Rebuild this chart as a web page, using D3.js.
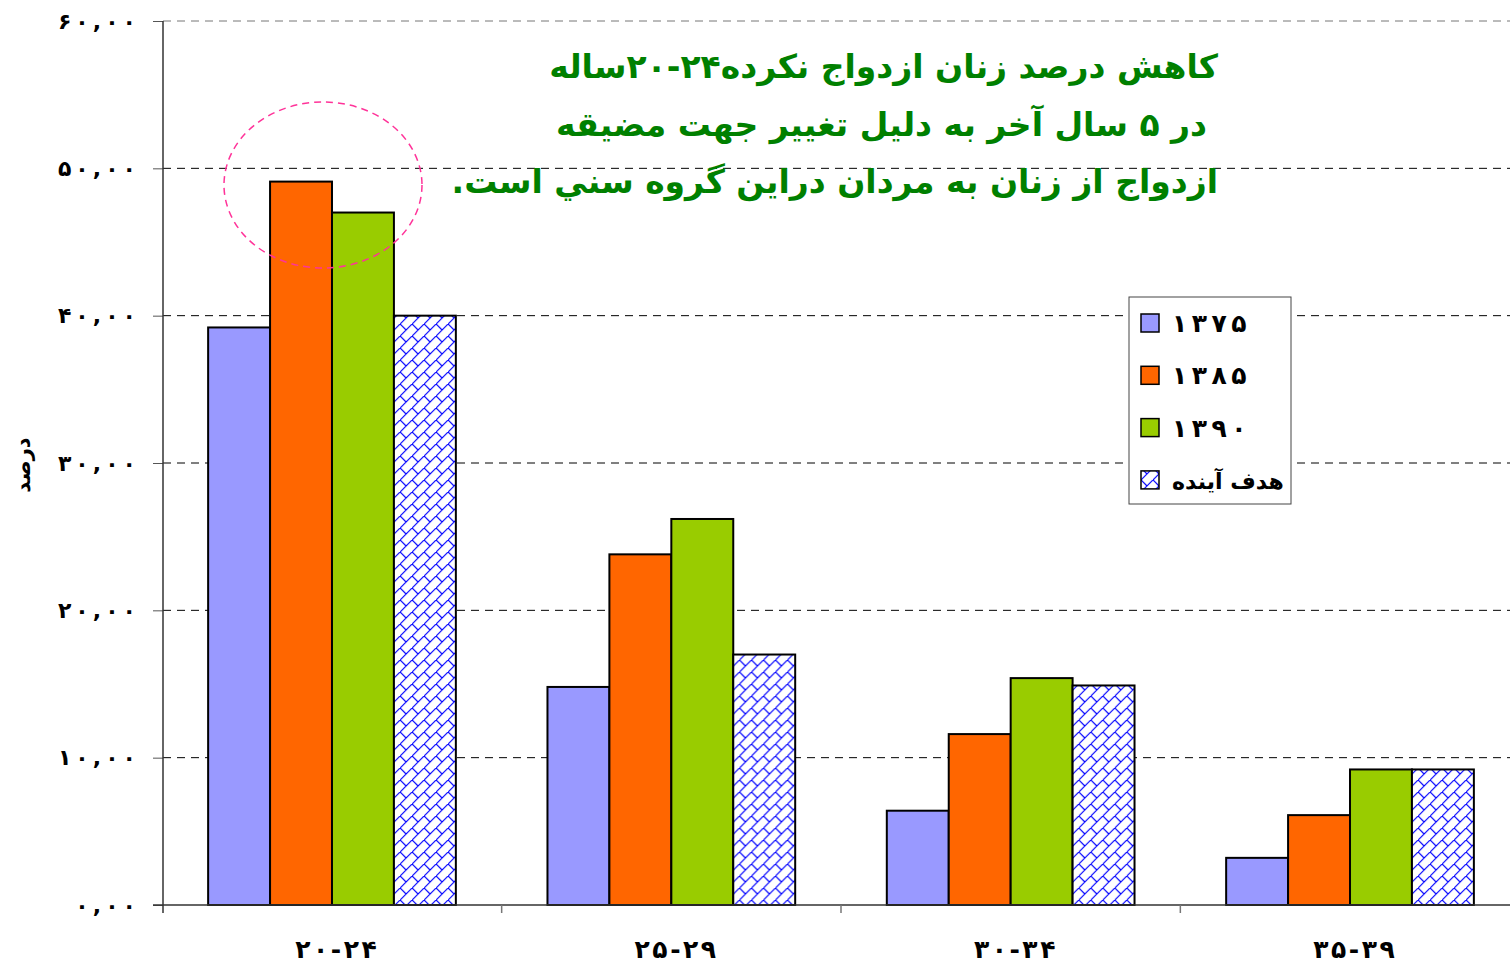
<!DOCTYPE html>
<html>
<head>
<meta charset="utf-8">
<script src="https://cdn.jsdelivr.net/npm/d3@7"></script>
<style>
body { margin: 0; background: #fff; }
svg { display: block; font-family: "DejaVu Sans", sans-serif; font-weight: bold; }
</style>
</head>
<body>
<div class="chart"><svg></svg></div>
<script>
// age groups and series
var groups = ["۲۰-۲۴", "۲۵-۲۹", "۳۰-۳۴", "۳۵-۳۹"];
var seriesNames = ["۱۳۷۵", "۱۳۸۵", "۱۳۹۰", "هدف آینده"];
var s1375 = [39.2, 14.8, 6.4, 3.2];
var s1385 = [49.1, 23.8, 11.6, 6.1];
var s1390 = [47.0, 26.2, 15.4, 9.2];
var sTarget = [40.0, 17.0, 14.9, 9.2];
var yTicks = [0, 10, 20, 30, 40, 50, 60];
var yTickLabels = ["۰,۰۰", "۱۰,۰۰", "۲۰,۰۰", "۳۰,۰۰", "۴۰,۰۰", "۵۰,۰۰", "۶۰,۰۰"];
var titleLines = [
    "کاهش درصد زنان ازدواج نکرده\u2066۲۰-۲۴\u2069ساله",
    "در ۵ سال آخر به دلیل تغییر جهت مضیقه",
    "ازدواج از زنان به مردان دراین گروه سني است."
];
var yTitle = "درصد";

var seriesValues = [s1375, s1385, s1390, sTarget];
var colors = ["#9999ff", "#ff6600", "#99cc00", "url(#brick)"];

var width = 1510, height = 965;
var plotLeft = 163, plotRight = 1510, plotTop = 21, plotBottom = 905;

// chrome ignores letter-spacing on arabic digits, so spread them with tspans
function spreadDigits(sel, gap){
    sel.each(function(){
        var t = d3.select(this);
        var s = t.text();
        t.text("");
        s.split("").forEach(function(ch, i){
            t.append("tspan").attr("dx", i === 0 ? 0 : gap).text(ch);
        });
    });
}

var svg = d3.select(".chart").select("svg")
    .attr("width", width)
    .attr("height", height);

// diagonal brick fill for the target series
var defs = svg.append("defs");
var pat = defs.append("pattern")
    .attr("id", "brick")
    .attr("patternUnits", "userSpaceOnUse")
    .attr("width", 12)
    .attr("height", 12);
pat.append("rect").attr("width", 12).attr("height", 12).attr("fill", "#fff");
pat.append("path")
    .attr("d", "M-1,13 L13,-1 M0,0 L6,6")
    .attr("stroke", "#0000ff")
    .attr("stroke-width", 1.2)
    .attr("fill", "none");

// the last group's slot runs a little past the picture edge
var x = d3.scaleBand()
    .domain(groups)
    .range([plotLeft, plotRight + 9])
    .paddingInner(0.27)
    .paddingOuter(0.133);

var xInner = d3.scaleBand()
    .domain(d3.range(seriesNames.length))
    .range([0, x.bandwidth()]);

var y = d3.scaleLinear()
    .domain([0, 60])
    .range([plotBottom, plotTop]);

// grid
svg.append("g")
    .selectAll("line")
    .data(yTicks.filter(function(d){ return d > 0; }))
    .enter().append("line")
    .attr("x1", plotLeft)
    .attr("x2", plotRight)
    .attr("y1", function(d){ return y(d); })
    .attr("y2", function(d){ return y(d); })
    .attr("stroke", function(d){ return d === 60 ? "#777" : "#000"; })
    .attr("stroke-width", 1)
    .attr("stroke-dasharray", "8,6");

// y axis
var yAxis = svg.append("g")
    .attr("transform", "translate(" + plotLeft + ",0)")
    .call(d3.axisLeft(y)
        .tickValues(yTicks)
        .tickFormat(function(d, i){ return yTickLabels[i]; })
        .tickSize(10)
        .tickSizeOuter(0)
        .tickPadding(17));
yAxis.select(".domain").remove();
yAxis.selectAll(".tick line").attr("stroke", "#555");
yAxis.selectAll(".tick text")
    .style("font-family", "DejaVu Sans")
    .style("font-size", "22px")
    .style("font-weight", "bold")
    .attr("fill", "#000")
    .call(spreadDigits, 4);

svg.append("line")
    .attr("x1", plotLeft).attr("x2", plotLeft)
    .attr("y1", plotTop).attr("y2", plotBottom + 8)
    .attr("stroke", "#333")
    .attr("stroke-width", 1.5);

// bars
var group = svg.append("g")
    .selectAll("g")
    .data(groups)
    .enter().append("g")
    .attr("transform", function(d){ return "translate(" + x(d) + ",0)"; });

group.selectAll("rect")
    .data(function(d, gi){
        return seriesValues.map(function(s, si){ return {si: si, v: s[gi]}; });
    })
    .enter().append("rect")
    .attr("x", function(d){ return xInner(d.si); })
    .attr("width", xInner.bandwidth())
    .attr("y", function(d){ return y(d.v); })
    .attr("height", function(d){ return plotBottom - y(d.v); })
    .attr("fill", function(d){ return colors[d.si]; })
    .attr("stroke", "#000")
    .attr("stroke-width", 2);

// x axis
svg.append("line")
    .attr("x1", plotLeft - 10).attr("x2", plotRight)
    .attr("y1", plotBottom).attr("y2", plotBottom)
    .attr("stroke", "#333")
    .attr("stroke-width", 1.5);

svg.append("g")
    .selectAll("line")
    .data(groups.slice(1))
    .enter().append("line")
    .attr("x1", function(d){ return x(d) - x.step() * x.paddingInner() / 2; })
    .attr("x2", function(d){ return x(d) - x.step() * x.paddingInner() / 2; })
    .attr("y1", plotBottom)
    .attr("y2", plotBottom + 8)
    .attr("stroke", "#777")
    .attr("stroke-width", 1.5);

svg.append("g")
    .selectAll("text")
    .data(groups)
    .enter().append("text")
    .text(function(d){ return d; })
    .attr("x", function(d){ return x(d) + x.bandwidth() / 2 + 4; })
    .attr("y", 958)
    .style("font-size", "25px")
    .style("text-anchor", "middle")
    .call(spreadDigits, 2.5);

// y title
svg.append("text")
    .text(yTitle)
    .attr("transform", "translate(30,465) rotate(-90)")
    .style("font-size", "21px")
    .style("text-anchor", "middle");

// circle round the first group's tops
svg.append("ellipse")
    .attr("cx", x(groups[0]) + x.bandwidth() / 2 - 9)
    .attr("cy", 185)
    .attr("rx", 99)
    .attr("ry", 83)
    .attr("fill", "none")
    .attr("stroke", "#ff3399")
    .attr("stroke-width", 1.5)
    .attr("stroke-dasharray", "7,5");

// legend
var lg = svg.append("g").attr("transform", "translate(1129,297)");
lg.append("rect")
    .attr("width", 162)
    .attr("height", 207)
    .attr("fill", "#fff")
    .attr("stroke", "#444")
    .attr("stroke-width", 1);

var item = lg.selectAll("g.item")
    .data(seriesNames)
    .enter().append("g")
    .attr("class", "item")
    .attr("transform", function(d, i){ return "translate(12," + (26 + i * 52.3) + ")"; });

item.append("rect")
    .attr("x", 0)
    .attr("y", -9)
    .attr("width", 18)
    .attr("height", 18)
    .attr("fill", function(d, i){ return colors[i]; })
    .attr("stroke", "#000")
    .attr("stroke-width", 1.5);

item.append("text")
    .text(function(d){ return d; })
    .attr("x", 31)
    .attr("y", 9)
    .style("font-size", function(d, i){ return i < 3 ? "25px" : "22px"; });

item.filter(function(d, i){ return i < 3; })
    .select("text")
    .call(spreadDigits, 4.5);

// title
svg.append("g")
    .selectAll("text")
    .data(titleLines)
    .enter().append("text")
    .text(function(d){ return d; })
    .attr("x", function(d, i){ return i === 1 ? 1207 : 1218; })
    .attr("y", function(d, i){ return 78 + i * 57.5; })
    .attr("direction", "rtl")
    .style("text-anchor", "start")
    .style("font-size", "33px")
    .attr("fill", "#008000");
</script>
</body>
</html>
